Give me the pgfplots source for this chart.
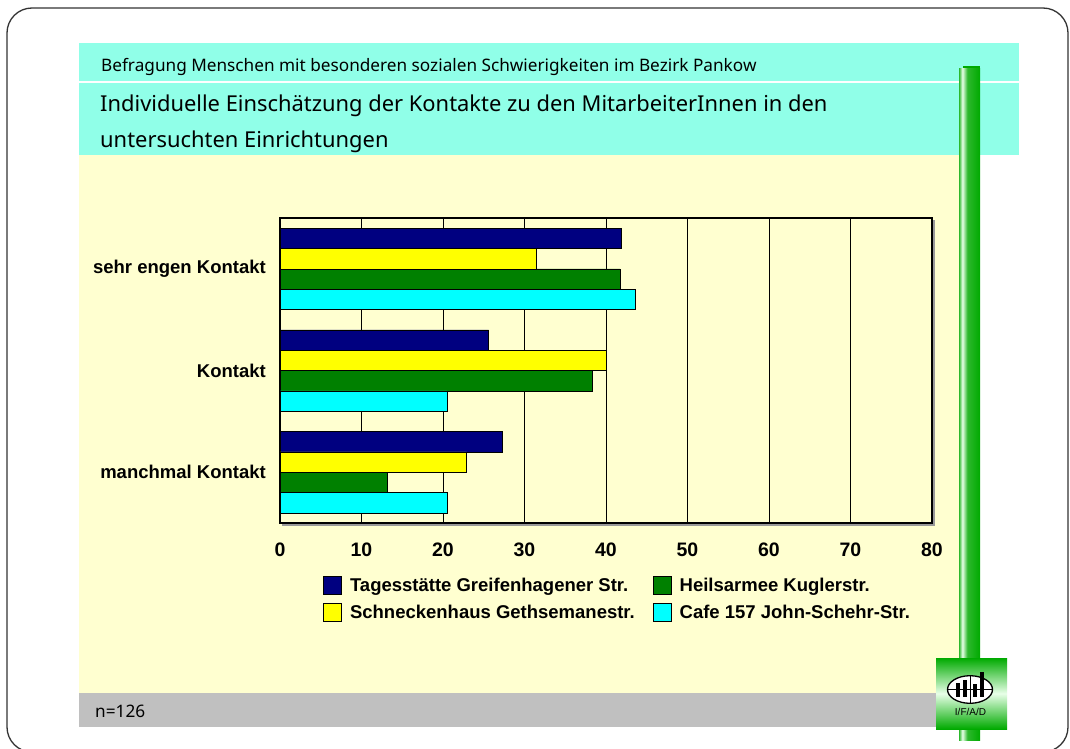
\documentclass[border=0pt]{standalone}
\usepackage{fontspec}
\setmainfont{Liberation Sans}
\newfontfamily\hdr{Noto Sans}
\usepackage{pgfplots}
\pgfplotsset{compat=1.18}

\definecolor{mint}{HTML}{90FFE8}
\definecolor{cream}{HTML}{FFFFD0}
\definecolor{navyb}{HTML}{000080}
\definecolor{yel}{HTML}{FFFF00}
\definecolor{grn}{HTML}{008000}
\definecolor{cyn}{HTML}{00FFFF}
\definecolor{foot}{HTML}{C0C0C0}
\definecolor{gA}{HTML}{2DB82D}
\definecolor{gB}{HTML}{00AA00}
\definecolor{gL}{HTML}{E8FFE8}

\pgfdeclarehorizontalshading{cyl}{100bp}{color(0bp)=(gA); color(25bp)=(gA); color(33bp)=(gL); color(45bp)=(gA); color(75bp)=(gB); color(100bp)=(gB)}

\pgfplotsset{sqleg/.style={legend image code/.code={\draw[##1,draw=black,line width=0.8pt] (0pt,-9pt) rectangle (18pt,9pt);}}}

\begin{document}
\begin{tikzpicture}
\begin{scope}[x=1pt,y=-1pt]
\useasboundingbox (0,0) rectangle (1070,749);
\fill[white] (0,0) rectangle (1070,749);
\draw[black!80, line width=1.3pt, rounded corners=25pt] (7,8) rectangle (1068,752);
\fill[mint] (79,43) rectangle (1019,155);
\fill[white] (79,81) rectangle (1019,83);
\fill[cream] (79,155) rectangle (959,693);
\fill[foot] (79,693) rectangle (940,727);
\node[anchor=base west, inner sep=0pt, font=\hdr\fontsize{17.2}{20}\selectfont] at (101,71.7) {Befragung Menschen mit besonderen sozialen Schwierigkeiten im Bezirk Pankow};
\node[anchor=base west, inner sep=0pt, font=\hdr\fontsize{21.9}{26}\selectfont] at (100,111.7) {Individuelle Einschätzung der Kontakte zu den MitarbeiterInnen in den};
\node[anchor=base west, inner sep=0pt, font=\hdr\fontsize{21.9}{26}\selectfont] at (100,147.3) {untersuchten Einrichtungen};
\node[anchor=base west, inner sep=0pt, font=\hdr\fontsize{17.2}{20}\selectfont] at (95,717) {n=126};
% green pillar
\fill[gB] (963,66) rectangle (980,738);
\shade[shading=cyl] (959,69) rectangle (980,740);
% logo
\shade[top color=gB, bottom color=gB, middle color=gL] (936,658) rectangle (1007,729);
\draw[fill=white, line width=1.3pt] (970,689.5) ellipse [x radius=22.5pt, y radius=13.8pt];
\draw[line width=0.9pt] (947.5,689.5)--(992.5,689.5);
\draw[line width=0.9pt] (970.5,675.7)--(970.5,703.3);
\fill[black] (955.7,682.7) rectangle (960,697);
\fill[black] (963,680) rectangle (967,697);
\fill[black] (972.7,684) rectangle (976.7,697);
\fill[black] (980,672) rectangle (984,697);
\node[inner sep=0pt, font=\fontsize{10}{12}\selectfont] at (970.5,712) {I/F/A/D};
% axis shadow
\draw[black!40, line width=1.5pt] (934,220) -- (934,525) -- (282,525);
\end{scope}

\begin{axis}[
  at={(280pt,-218pt)}, anchor=north west,
  scale only axis, width=652pt, height=305pt,
  xbar, bar width=0.2,
  enlargelimits=false,
  xmin=0, xmax=80, ymin=-0.5, ymax=2.5, y dir=reverse,
  xtick={0,10,...,80}, ytick={0,1,2},
  yticklabels={sehr engen Kontakt,Kontakt,manchmal Kontakt},
  xmajorgrids, major grid style={black, line width=0.9pt},
  major tick length=0pt,
  axis line style={black, line width=1.6pt},
  /pgf/number format/assume math mode=true,
  tick label style={font=\bfseries\fontsize{18.5}{22}\selectfont},
  xticklabel style={anchor=north, inner sep=0pt, yshift=-20pt, font=\bfseries\fontsize{19.5}{23}\selectfont},
  yticklabel style={anchor=east, inner sep=0pt, xshift=-14pt},
  legend columns=2,
  legend style={at={(0.066,-0.174)}, anchor=north west, draw=none, fill=none,
    inner sep=0pt, font=\bfseries\fontsize{18.5}{22}\selectfont,
    nodes={inner sep=0pt}, cells={anchor=west}, row sep=8pt,
    /tikz/every odd column/.append style={column sep=8pt},
    /tikz/every even column/.append style={column sep=18pt}},
]
\addplot[fill=navyb, draw=black, line width=0.6pt, bar shift=-0.3, sqleg] coordinates {(41.9,0) (25.6,1) (27.3,2)};
\addlegendentry{Tagesstätte Greifenhagener Str.}
\addplot[fill=grn, draw=black, line width=0.6pt, bar shift=0.1, sqleg] coordinates {(41.7,0) (38.3,1) (13.2,2)};
\addlegendentry{Heilsarmee Kuglerstr.}
\addplot[fill=yel, draw=black, line width=0.6pt, bar shift=-0.1, sqleg] coordinates {(31.4,0) (40.0,1) (22.9,2)};
\addlegendentry{Schneckenhaus Gethsemanestr.}
\addplot[fill=cyn, draw=black, line width=0.6pt, bar shift=0.3, sqleg] coordinates {(43.6,0) (20.5,1) (20.5,2)};
\addlegendentry{Cafe 157 John-Schehr-Str.}
\end{axis}
\end{tikzpicture}
\end{document}
